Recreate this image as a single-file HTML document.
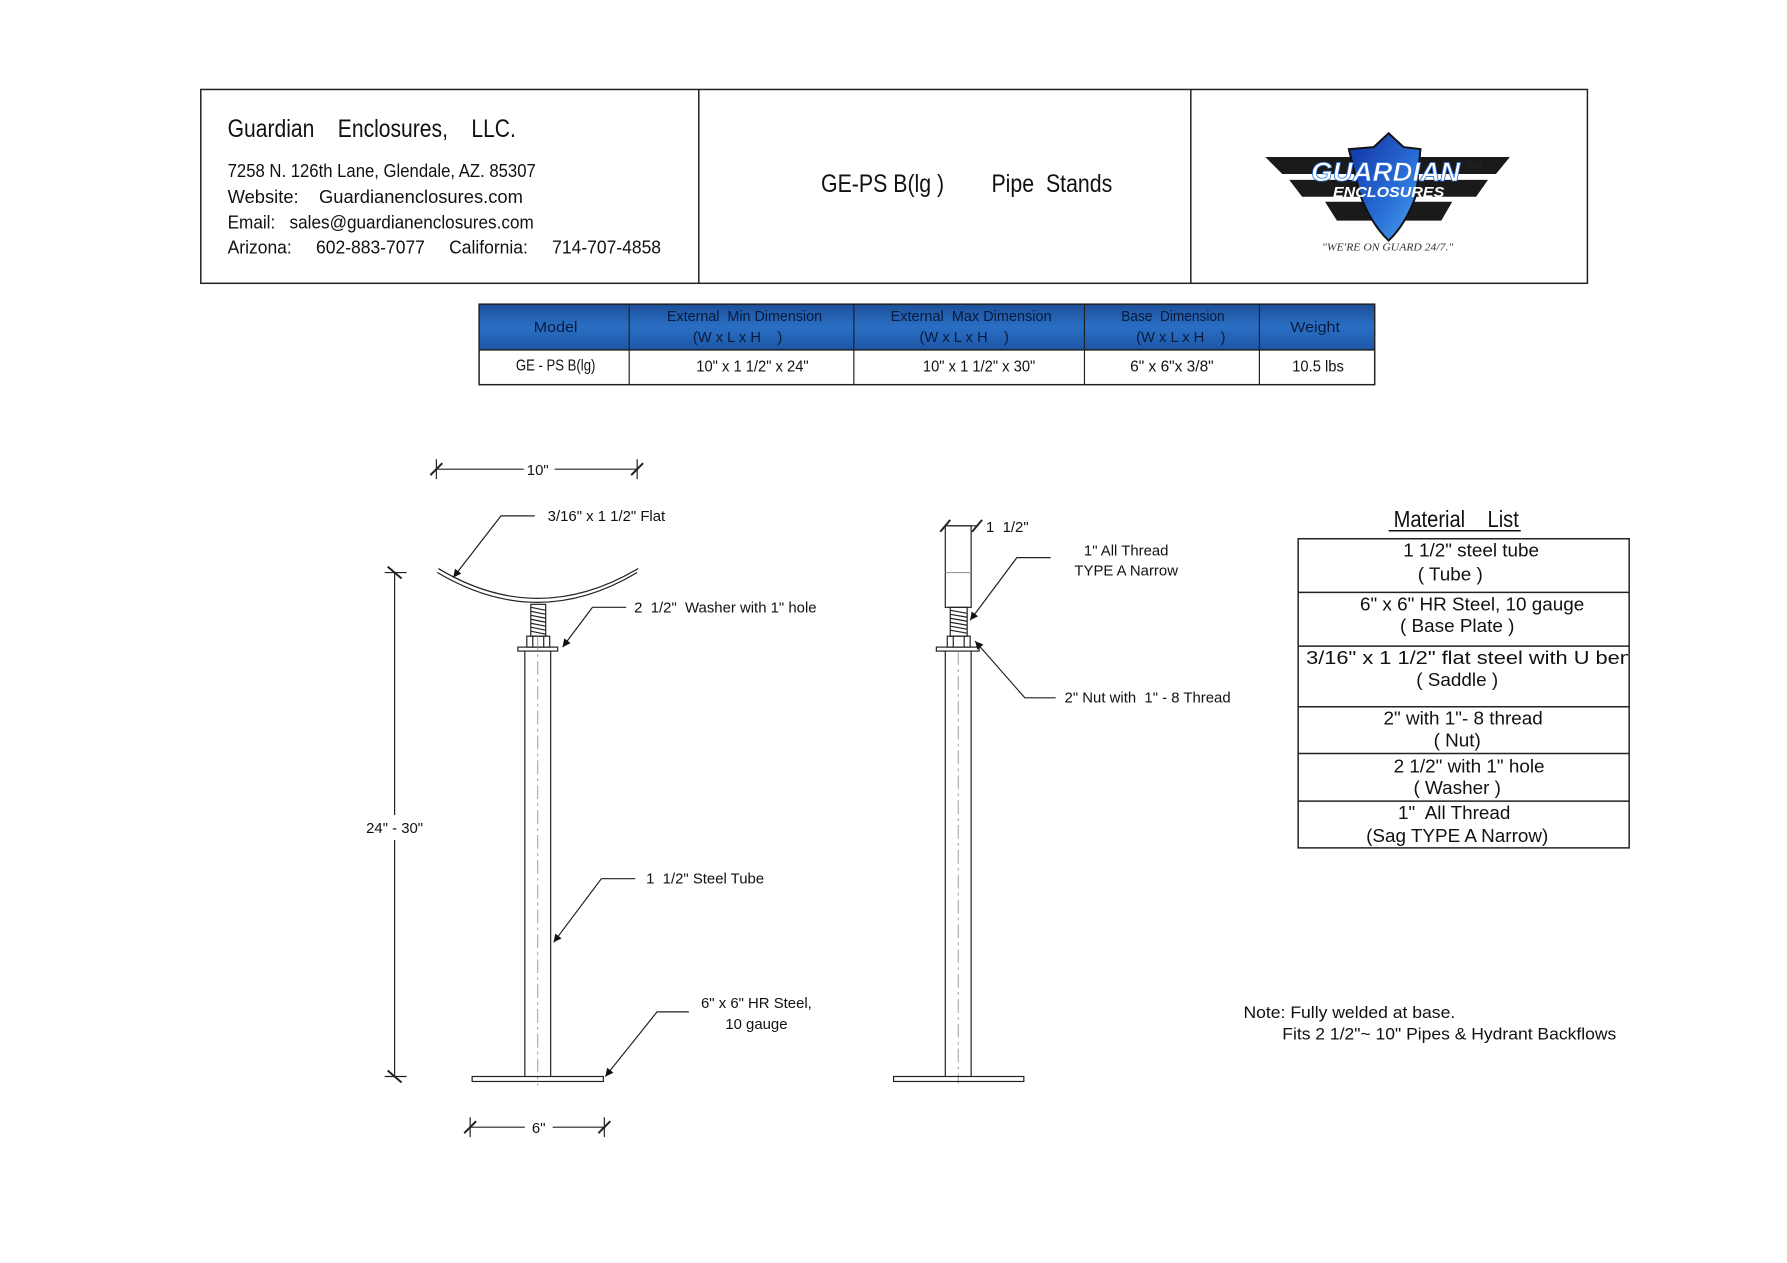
<!DOCTYPE html>
<html><head><meta charset="utf-8"><style>
html,body{margin:0;padding:0;background:#fff;}
svg{display:block;}
text{font-family:"Liberation Sans",sans-serif;fill:#111;white-space:pre;}
</style></head><body>
<svg width="1787" height="1263" viewBox="0 0 1787 1263" xmlns="http://www.w3.org/2000/svg">
<defs>
<linearGradient id="hb" x1="0" y1="0" x2="0" y2="1"><stop offset="0" stop-color="#1c4f9a"/><stop offset="0.5" stop-color="#2a6fc4"/><stop offset="1" stop-color="#1d56a6"/></linearGradient>
<linearGradient id="sh" x1="0" y1="0" x2="1" y2="1"><stop offset="0" stop-color="#1030a0"/><stop offset="0.6" stop-color="#2a6fd8"/><stop offset="1" stop-color="#4fa8f0"/></linearGradient>
<marker id="ar" viewBox="0 0 10 10" refX="10" refY="5" markerWidth="14" markerHeight="8" orient="auto" markerUnits="userSpaceOnUse"><path d="M0,0 L10,5 L0,10 z" fill="#111"/></marker>
</defs>
<g transform="scale(0.994)">
<!-- header -->
<rect x="202" y="90" width="1395" height="195" fill="none" stroke="#222" stroke-width="1.5"/>
<line x1="703" y1="90" x2="703" y2="285" stroke="#222" stroke-width="1.5"/>
<line x1="1198" y1="90" x2="1198" y2="285" stroke="#222" stroke-width="1.5"/>
<text x="229" y="138" font-size="25" textLength="290" lengthAdjust="spacingAndGlyphs">Guardian    Enclosures,    LLC.</text>
<text x="229" y="178" font-size="19" textLength="310" lengthAdjust="spacingAndGlyphs">7258 N. 126th Lane, Glendale, AZ. 85307</text>
<text x="229" y="204" font-size="19" textLength="297" lengthAdjust="spacingAndGlyphs">Website:    Guardianenclosures.com</text>
<text x="229" y="230" font-size="19" textLength="308" lengthAdjust="spacingAndGlyphs">Email:   sales@guardianenclosures.com</text>
<text x="229" y="255" font-size="19" textLength="436" lengthAdjust="spacingAndGlyphs">Arizona:     602-883-7077     California:     714-707-4858</text>
<text x="826" y="193" font-size="25" textLength="293" lengthAdjust="spacingAndGlyphs">GE-PS B(lg )        Pipe  Stands</text>

<!-- logo -->
<g>
<path d="M1273,158 L1519,158 L1505,175 L1290,175 Z" fill="#1a1a1a"/>
<path d="M1297,181 L1497,181 L1485,198 L1310,198 Z" fill="#1a1a1a"/>
<path d="M1333,203 L1461,203 L1450,222 L1345,222 Z" fill="#1a1a1a"/>
<path d="M1397,134 L1412,148 L1429,150 L1425,195 Q1415,225 1397,242 Q1379,225 1368,195 L1357,150 L1382,148 Z" fill="url(#sh)" stroke="#111" stroke-width="2"/>
<text x="1394" y="182" font-size="27" font-weight="bold" font-style="italic" text-anchor="middle" style="fill:#fff;stroke:#2a6fd8;stroke-width:0.8" textLength="150" lengthAdjust="spacingAndGlyphs">GUARDIAN</text>
<text x="1397" y="198" font-size="15" font-weight="bold" font-style="italic" text-anchor="middle" style="fill:#fff" textLength="112" lengthAdjust="spacingAndGlyphs">ENCLOSURES</text>
<text x="1476" y="170" font-size="10" font-weight="bold" style="fill:#222">TM</text>
<text x="1396" y="252" font-size="11" font-style="italic" text-anchor="middle" style="fill:#333;font-family:'Liberation Serif',serif" textLength="132" lengthAdjust="spacingAndGlyphs">"WE'RE ON GUARD 24/7."</text>
</g>

<!-- spec table -->
<rect x="482" y="306" width="901" height="46" fill="url(#hb)"/>
<rect x="482" y="306" width="901" height="81" fill="none" stroke="#222" stroke-width="1.5"/>
<line x1="482" y1="352" x2="1383" y2="352" stroke="#222" stroke-width="1.5"/>
<g stroke="#222" stroke-width="1.2">
<line x1="633" y1="306" x2="633" y2="387"/><line x1="859" y1="306" x2="859" y2="387"/>
<line x1="1091" y1="306" x2="1091" y2="387"/><line x1="1267" y1="306" x2="1267" y2="387"/>
</g>
<g font-size="15" text-anchor="middle">
<text x="559" y="334" style="fill:#0a1a3a" textLength="44" lengthAdjust="spacingAndGlyphs">Model</text>
<text x="749" y="323" style="fill:#0a1a3a" textLength="156" lengthAdjust="spacingAndGlyphs">External  Min Dimension</text>
<text x="742" y="344" style="fill:#0a1a3a" textLength="90" lengthAdjust="spacingAndGlyphs">(W x L x H    )</text>
<text x="977" y="323" style="fill:#0a1a3a" textLength="162" lengthAdjust="spacingAndGlyphs">External  Max Dimension</text>
<text x="970" y="344" style="fill:#0a1a3a" textLength="90" lengthAdjust="spacingAndGlyphs">(W x L x H    )</text>
<text x="1180" y="323" style="fill:#0a1a3a" textLength="104" lengthAdjust="spacingAndGlyphs">Base  Dimension</text>
<text x="1188" y="344" style="fill:#0a1a3a" textLength="90" lengthAdjust="spacingAndGlyphs">(W x L x H    )</text>
<text x="1323" y="334" style="fill:#0a1a3a" textLength="50" lengthAdjust="spacingAndGlyphs">Weight</text>
</g>
<g font-size="16" text-anchor="middle">
<text x="559" y="373" textLength="80" lengthAdjust="spacingAndGlyphs">GE - PS B(lg)</text>
<text x="757" y="374" textLength="113" lengthAdjust="spacingAndGlyphs">10" x 1 1/2" x 24"</text>
<text x="985" y="374" textLength="113" lengthAdjust="spacingAndGlyphs">10" x 1 1/2" x 30"</text>
<text x="1179" y="374" textLength="84" lengthAdjust="spacingAndGlyphs">6" x 6"x 3/8"</text>
<text x="1326" y="374" textLength="52" lengthAdjust="spacingAndGlyphs">10.5 lbs</text>
</g>

<!-- drawing 1 -->
<g stroke="#222" stroke-width="1.2" fill="none">
<line x1="439" y1="472" x2="527" y2="472"/><line x1="558" y1="472" x2="641" y2="472"/>
<line x1="439" y1="462" x2="439" y2="482"/><line x1="641" y1="462" x2="641" y2="482"/>
<line x1="433" y1="478" x2="445" y2="466" stroke-width="2"/><line x1="635" y1="478" x2="647" y2="466" stroke-width="2"/>
<path d="M440,576 Q541,636 641,576"/><path d="M441,572 Q541,632 642,572"/>
<rect x="534" y="608" width="15" height="32"/>
<path d="M534,611 L549,614 M534,615 L549,618 M534,619 L549,622 M534,623 L549,626 M534,627 L549,630 M534,631 L549,634 M534,635 L549,638"/>
<rect x="530" y="640" width="23" height="11"/><line x1="536" y1="640" x2="536" y2="651"/><line x1="547" y1="640" x2="547" y2="651"/>
<rect x="521" y="651" width="40" height="4"/>
<line x1="528" y1="655" x2="528" y2="1083"/><line x1="554" y1="655" x2="554" y2="1083"/>
<line x1="541" y1="640" x2="541" y2="1092" stroke-dasharray="14,4,3,4" stroke-width="0.8" stroke="#888"/>
<rect x="475" y="1083" width="132" height="5"/>
<line x1="397" y1="576" x2="397" y2="820"/><line x1="397" y1="845" x2="397" y2="1083"/>
<line x1="387" y1="576" x2="409" y2="576"/><line x1="387" y1="1083" x2="409" y2="1083"/>
<line x1="390" y1="570" x2="404" y2="582" stroke-width="2"/><line x1="390" y1="1077" x2="404" y2="1089" stroke-width="2"/>
<line x1="473" y1="1134" x2="528" y2="1134"/><line x1="556" y1="1134" x2="608" y2="1134"/>
<line x1="473" y1="1124" x2="473" y2="1144"/><line x1="608" y1="1124" x2="608" y2="1144"/>
<line x1="467" y1="1140" x2="479" y2="1128" stroke-width="2"/><line x1="602" y1="1140" x2="614" y2="1128" stroke-width="2"/>
<polyline points="538,519 504,519 456,581" marker-end="url(#ar)"/>
<polyline points="630,611 596,611 566,651" marker-end="url(#ar)"/>
<polyline points="639,884 605,884 557,948" marker-end="url(#ar)"/>
<polyline points="693,1018 661,1018 609,1083" marker-end="url(#ar)"/>
</g>
<g font-size="15">
<text x="541" y="478" text-anchor="middle">10"</text>
<text x="551" y="524">3/16" x 1 1/2" Flat</text>
<text x="638" y="616">2  1/2"  Washer with 1" hole</text>
<text x="397" y="838" text-anchor="middle">24" - 30"</text>
<text x="650" y="889">1  1/2" Steel Tube</text>
<text x="761" y="1014" text-anchor="middle">6" x 6" HR Steel,</text>
<text x="761" y="1035" text-anchor="middle">10 gauge</text>
<text x="542" y="1140" text-anchor="middle">6"</text>
</g>

<!-- drawing 2 -->
<g stroke="#222" stroke-width="1.2" fill="none">
<line x1="951" y1="529" x2="983" y2="529"/>
<line x1="946" y1="535" x2="956" y2="523" stroke-width="2"/><line x1="978" y1="535" x2="988" y2="523" stroke-width="2"/>
<rect x="951" y="529" width="26" height="82"/>
<line x1="951" y1="576" x2="977" y2="576" stroke="#999"/>
<rect x="956" y="611" width="17" height="29"/>
<path d="M956,614 L973,617 M956,618 L973,621 M956,622 L973,625 M956,626 L973,629 M956,630 L973,633 M956,634 L973,637"/>
<rect x="953" y="640" width="23" height="11"/><line x1="959" y1="640" x2="959" y2="651"/><line x1="970" y1="640" x2="970" y2="651"/>
<rect x="942" y="651" width="43" height="4"/>
<line x1="951" y1="655" x2="951" y2="1083"/><line x1="977" y1="655" x2="977" y2="1083"/>
<line x1="964" y1="655" x2="964" y2="1090" stroke-dasharray="14,4,3,4" stroke-width="0.8" stroke="#888"/>
<rect x="899" y="1083" width="131" height="5"/>
<polyline points="1057,561 1023,561 976,624" marker-end="url(#ar)"/>
<polyline points="1062,702 1031,702 981,645" marker-end="url(#ar)"/>
</g>
<g font-size="15">
<text x="992" y="535">1  1/2"</text>
<text x="1133" y="559" text-anchor="middle">1" All Thread</text>
<text x="1133" y="579" text-anchor="middle">TYPE A Narrow</text>
<text x="1071" y="707">2" Nut with  1" - 8 Thread</text>
</g>

<!-- material list -->
<text x="1465" y="530" font-size="23" text-anchor="middle" textLength="126" lengthAdjust="spacingAndGlyphs">Material    List</text>
<line x1="1397" y1="534" x2="1530" y2="534" stroke="#111" stroke-width="1.5"/>
<rect x="1306" y="542" width="333" height="311" fill="none" stroke="#222" stroke-width="1.5"/>
<g stroke="#222" stroke-width="1.5">
<line x1="1306" y1="596" x2="1639" y2="596"/><line x1="1306" y1="650" x2="1639" y2="650"/>
<line x1="1306" y1="711" x2="1639" y2="711"/><line x1="1306" y1="758" x2="1639" y2="758"/>
<line x1="1306" y1="806" x2="1639" y2="806"/>
</g>
<svg x="1306" y="542" width="332" height="311" overflow="hidden">
<g font-size="19" text-anchor="middle" style="fill:#222">
<text x="174" y="18">1 1/2" steel tube</text>
<text x="153" y="42">( Tube )</text>
<text x="175" y="72">6" x 6" HR Steel, 10 gauge</text>
<text x="160" y="94">( Base Plate )</text>
<text x="8" y="126" text-anchor="start" textLength="340" lengthAdjust="spacingAndGlyphs">3/16" x 1 1/2" flat steel with U bend</text>
<text x="160" y="148">( Saddle )</text>
<text x="166" y="187">2" with 1"- 8 thread</text>
<text x="160" y="209">( Nut)</text>
<text x="172" y="235">2 1/2" with 1" hole</text>
<text x="160" y="257">( Washer )</text>
<text x="157" y="282">1"  All Thread</text>
<text x="160" y="305">(Sag TYPE A Narrow)</text>
</g>
</svg>

<g font-size="17" style="fill:#222">
<text x="1251" y="1024" textLength="213" lengthAdjust="spacingAndGlyphs">Note: Fully welded at base.</text>
<text x="1290" y="1046" textLength="336" lengthAdjust="spacingAndGlyphs">Fits 2 1/2"~ 10" Pipes &amp; Hydrant Backflows</text>
</g>
</g>
</svg>
</body></html>
